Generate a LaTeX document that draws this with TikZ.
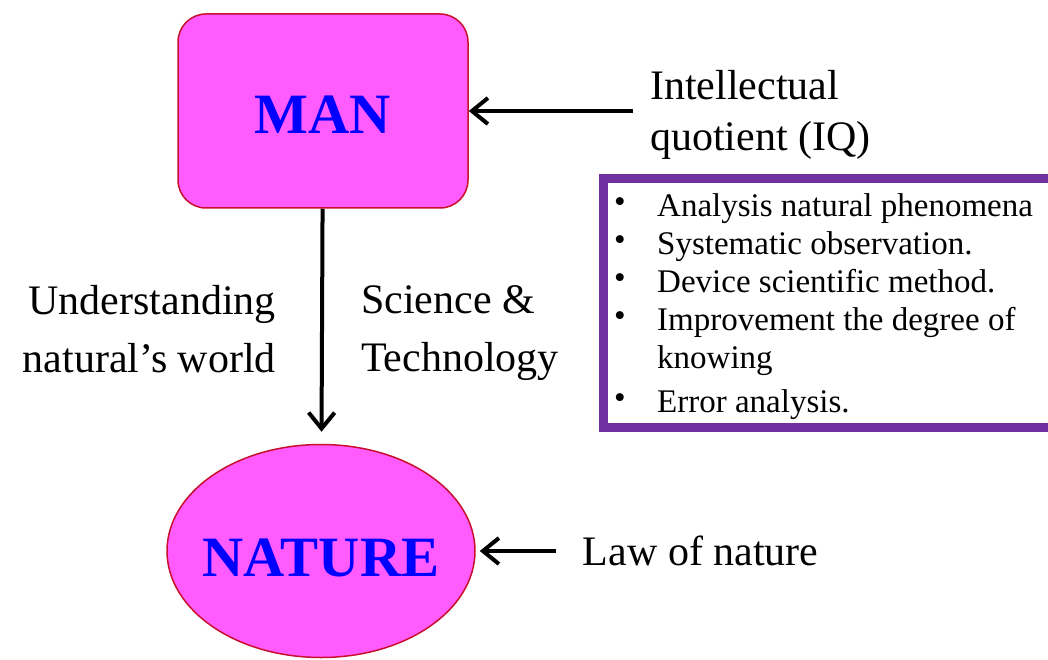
\documentclass[tikz,border=0pt]{standalone}
\usepackage{fontspec}
\setmainfont{Liberation Serif}
\usetikzlibrary{shapes.geometric,arrows.meta,positioning}
\definecolor{pinkfill}{HTML}{FF5BFF}
\definecolor{rimred}{HTML}{C8102E}
\definecolor{notepurple}{HTML}{7030A0}

\begin{document}
\begin{tikzpicture}[x=1pt,y=-1pt,
  entity/.style={draw=rimred, line width=1.5pt, fill=pinkfill, text=blue, font=\fontsize{57}{60}\selectfont\bfseries},
  remark/.style={inner sep=0pt, font=\fontsize{42}{58}\selectfont},
  notetext/.style={inner sep=0pt, anchor=base west, font=\fontsize{33}{38}\selectfont},
  notebullet/.style={inner sep=0pt, anchor=base, font=\fontsize{33}{38}\selectfont},
  link/.style={-{Straight Barb[length=16pt,width=26pt]}, line width=4pt}]
\useasboundingbox (0,0) rectangle (1048,660);

% main entities
\node[entity, rounded corners=28pt, minimum width=290pt, minimum height=194pt, text height=46pt] (man) at (323,111) {MAN};
\node[entity, ellipse, inner sep=0pt, minimum width=308pt, minimum height=213pt, text height=52pt] (nature) at (321,551) {\makebox[0pt]{NATURE}};

% side labels
\node[remark, anchor=north east, align=right] (understand) at (276,285) {Understanding\\natural’s world};
\node[remark, anchor=north west, align=left] (scitech) at (361,285) {Science \&\\Technology};
\node[remark, anchor=north west, align=left, font=\fontsize{42}{51}\selectfont] (iq) at (650,70) {Intellectual\\quotient (IQ)};
\node[remark, right=107pt of nature] (law) {Law of nature};

% notes frame
\draw[notepurple, line width=9pt] (603,178.5) rectangle (1060,427);
\foreach \y/\txt [count=\i] in {217/Analysis natural phenomena, 254/Systematic observation., 292/Device scientific method., 330/Improvement the degree of, 412/Error analysis.}
{
  \node[notebullet] (bul\i) at (620,\y-4) {•};
  \node[notetext] (item\i) at (657,\y) {\txt};
}
\node[notetext] (knowing) at (657,368) {knowing};

% connectors
\draw[link, shorten >=12pt] (man) -- (nature);
\draw[link, shorten <=17pt] (iq.west |- man.east) -- (man.east);
\draw[link, shorten <=27pt, shorten >=4pt] (nature.east -| law.west) -- (nature.east);
\end{tikzpicture}
\end{document}
